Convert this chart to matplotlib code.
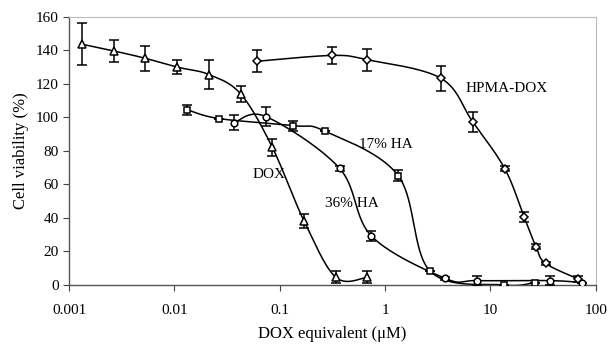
import numpy as np
import matplotlib
matplotlib.use("Agg")
import matplotlib.pyplot as plt

plt.rcParams['font.family'] = ['Liberation Serif', 'DejaVu Serif']

# ---- data ----
dox_x = [0.00133, 0.00266, 0.0053, 0.0107, 0.0213, 0.0426, 0.085, 0.17, 0.34, 0.68]
dox_y = [143.7, 139.7, 135.3, 130.0, 125.6, 114.0, 82.2, 38.2, 4.6, 4.6]
dox_e = [12.5, 6.5, 7.5, 4.0, 8.5, 5.0, 5.0, 4.0, 3.5, 3.5]

ha17_x = [0.0133, 0.0266, 0.133, 0.266, 1.33, 2.66, 13.3, 26.6]
ha17_y = [104.5, 99.3, 95.1, 91.9, 65.3, 8.4, 0.0, 1.4]
ha17_e = [3.0, 0.0, 3.0, 0.0, 3.5, 0.0, 0.0, 0.0]

ha36_x = [0.037, 0.074, 0.37, 0.74, 3.7, 7.4, 37.0, 74.0]
ha36_y = [96.9, 100.5, 69.6, 29.3, 4.0, 2.6, 2.6, 1.4]
ha36_e = [4.5, 5.5, 1.5, 3.0, 1.0, 2.5, 2.5, 0.0]

hpma_x = [0.0604, 0.313, 0.667, 3.38, 6.76, 13.7, 20.8, 27.0, 33.3, 67.9]
hpma_y = [133.5, 137.0, 134.5, 123.4, 97.5, 69.3, 40.8, 22.9, 12.9, 3.6]
hpma_e = [6.5, 5.0, 6.5, 7.5, 6.0, 1.5, 3.0, 1.5, 1.0, 2.0]

x_ticks = [0.001, 0.01, 0.1, 1, 10, 100]
x_tick_labels = ["0.001", "0.01", "0.1", "1", "10", "100"]
y_ticks = [0, 20, 40, 60, 80, 100, 120, 140, 160]

labels = ["DOX", "17% HA", "36% HA", "HPMA-DOX"]
label_pos = [(0.0798, 65.7), (1.02, 83.6), (0.484, 48.8), (14.3, 117.0)]

# ---- smoothing (Catmull-Rom / Excel style in display-proportional space) ----
SX, SY = 105.4, 1.675

def smooth(xs, ys, n=40):
    P = np.column_stack([np.log10(xs) * SX, np.asarray(ys) * SY])
    out = []
    for i in range(len(P) - 1):
        p0 = P[i - 1] if i > 0 else P[i]
        p1 = P[i]
        p2 = P[i + 1]
        p3 = P[i + 2] if i + 2 < len(P) else P[i + 1]
        c1 = p1 + (p2 - p0) / 6.0
        c2 = p2 - (p3 - p1) / 6.0
        t = np.linspace(0, 1, n)[:, None]
        seg = ((1 - t) ** 3) * p1 + 3 * ((1 - t) ** 2) * t * c1 + 3 * (1 - t) * t ** 2 * c2 + t ** 3 * p2
        out.append(seg if i == 0 else seg[1:])
    S = np.vstack(out)
    return 10 ** (S[:, 0] / SX), S[:, 1] / SY

fig = plt.figure(figsize=(6.08, 3.45), dpi=100)
ax = fig.add_axes([0.1135, 0.174, 0.8665, 0.777])

series = [
    (dox_x, dox_y, dox_e, '^', 6.0),
    (ha17_x, ha17_y, ha17_e, 's', 5.0),
    (ha36_x, ha36_y, ha36_e, 'o', 4.8),
    (hpma_x, hpma_y, hpma_e, 'D', 4.2),
]
for xs, ys, es, m, ms in series:
    sx, sy = smooth(xs, ys)
    ax.plot(sx, sy, color='black', lw=1.1, zorder=2)
    ax.errorbar(xs, ys, yerr=es, fmt='none', ecolor='black', elinewidth=1.1,
                capsize=3.6, capthick=1.1, zorder=3)
    ax.plot(xs, ys, linestyle='none', marker=m, markersize=ms,
            markerfacecolor='white', markeredgecolor='black', markeredgewidth=1.1, zorder=4)

for t, (lx, ly) in zip(labels, label_pos):
    ax.text(lx, ly, t, ha='center', va='center', fontsize=11)

ax.set_xscale('log')
ax.set_xlim(0.001, 100)
ax.set_ylim(0, 160)
ax.set_xticks(x_ticks)
ax.set_xticklabels(x_tick_labels)
ax.minorticks_off()
ax.set_yticks(y_ticks)
ax.tick_params(axis='both', direction='out', length=4, width=0.8, labelsize=11, color='#444444')
ax.tick_params(axis='x', pad=10)
for s in ['left', 'bottom']:
    ax.spines[s].set_color('#555555')
    ax.spines[s].set_linewidth(1.0)
for s in ['top', 'right']:
    ax.spines[s].set_color('#bbbbbb')
    ax.spines[s].set_linewidth(0.8)

ax.set_xlabel("DOX equivalent (\u03bcM)", fontsize=12, labelpad=6)
ax.set_ylabel("Cell viability (%)", fontsize=12, labelpad=5)

fig.savefig("out.png", dpi=100)
